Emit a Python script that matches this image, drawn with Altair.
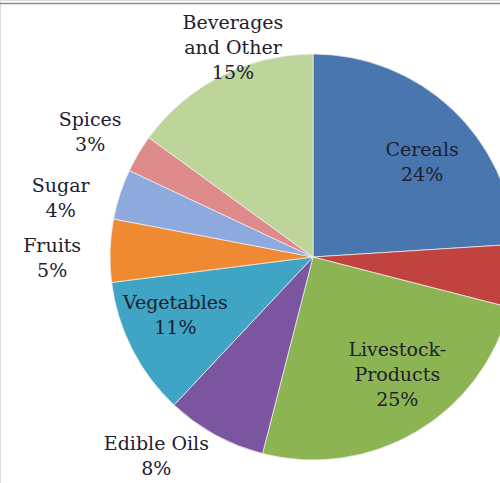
import altair as alt
import pandas as pd

categories = ["Cereals", "Pulses", "Livestock-Products", "Edible Oils", "Vegetables",
              "Fruits", "Sugar", "Spices", "Beverages and Other"]
shares = [24, 5, 25, 8, 11, 5, 4, 3, 15]
label_lines = [["Cereals"], [], ["Livestock-", "Products"], ["Edible Oils"], ["Vegetables"],
               ["Fruits"], ["Sugar"], ["Spices"], ["Beverages", "and Other"]]
colors = ["#4A76B0", "#C0433F", "#8DB452", "#7B55A0", "#40A4C4",
          "#F08A32", "#8EA9DE", "#DE8A8A", "#BDD49A"]

# label placement: (radius from centre, dx, dy of first line)
label_layout = {
    "Cereals": (155, 3, 6),
    "Livestock-Products": (140, 13, -28),
    "Vegetables": (150, -4, -22),
    "Edible Oils": (238, -42, -22),
    "Fruits": (238, -23, -4),
    "Sugar": (238, -26, 3),
    "Spices": (238, -18, -16),
    "Beverages and Other": (238, 28, -22),
}

df = pd.DataFrame({
    "cat": categories,
    "share": shares,
    "order": list(range(len(categories))),
    "label": [lines + [f"{s}%"] for lines, s in zip(label_lines, shares)],
})

CX, CY, R = 313, 257, 203
font = "DejaVu Serif"
tscale = alt.Scale(domain=[0, 100], range=[0, 6.283185307])

base = alt.Chart(df).transform_window(
    cum="sum(share)", sort=[alt.SortField("order")], frame=[None, 0]
).transform_calculate(
    start="datum.cum - datum.share", mid="datum.cum - datum.share / 2"
)

pie = base.mark_arc(stroke="#f4f4f4", strokeWidth=0.7, clip=True).encode(
    theta=alt.Theta("start:Q", scale=tscale), theta2="cum:Q",
    x=alt.value(CX), y=alt.value(CY), radius=alt.value(R),
    color=alt.Color("cat:N", scale=alt.Scale(domain=categories, range=colors), legend=None),
)

layers = [pie]
for cat, (r, dx, dy) in label_layout.items():
    layers.append(
        base.transform_filter(alt.datum.cat == cat).mark_text(
            font=font, fontSize=19, color="#1c2030", lineHeight=25,
            baseline="middle", dx=dx, dy=dy
        ).encode(
            theta=alt.Theta("mid:Q", scale=tscale),
            x=alt.value(CX), y=alt.value(CY), radius=alt.value(r), text="label",
        )
    )

top_rule = alt.Chart(pd.DataFrame({"a": [0]})).mark_rule(color="#8a8a8a", strokeWidth=1.5).encode(
    y=alt.value(3.5)
)
layers.append(top_rule)

chart = alt.layer(*layers).properties(
    width=500, height=483, autosize=alt.AutoSizeParams(type="none"), padding=0
).configure_view(stroke=None).configure(background="white")

chart.save("out.html", embed_options={"renderer": "svg", "actions": False})
